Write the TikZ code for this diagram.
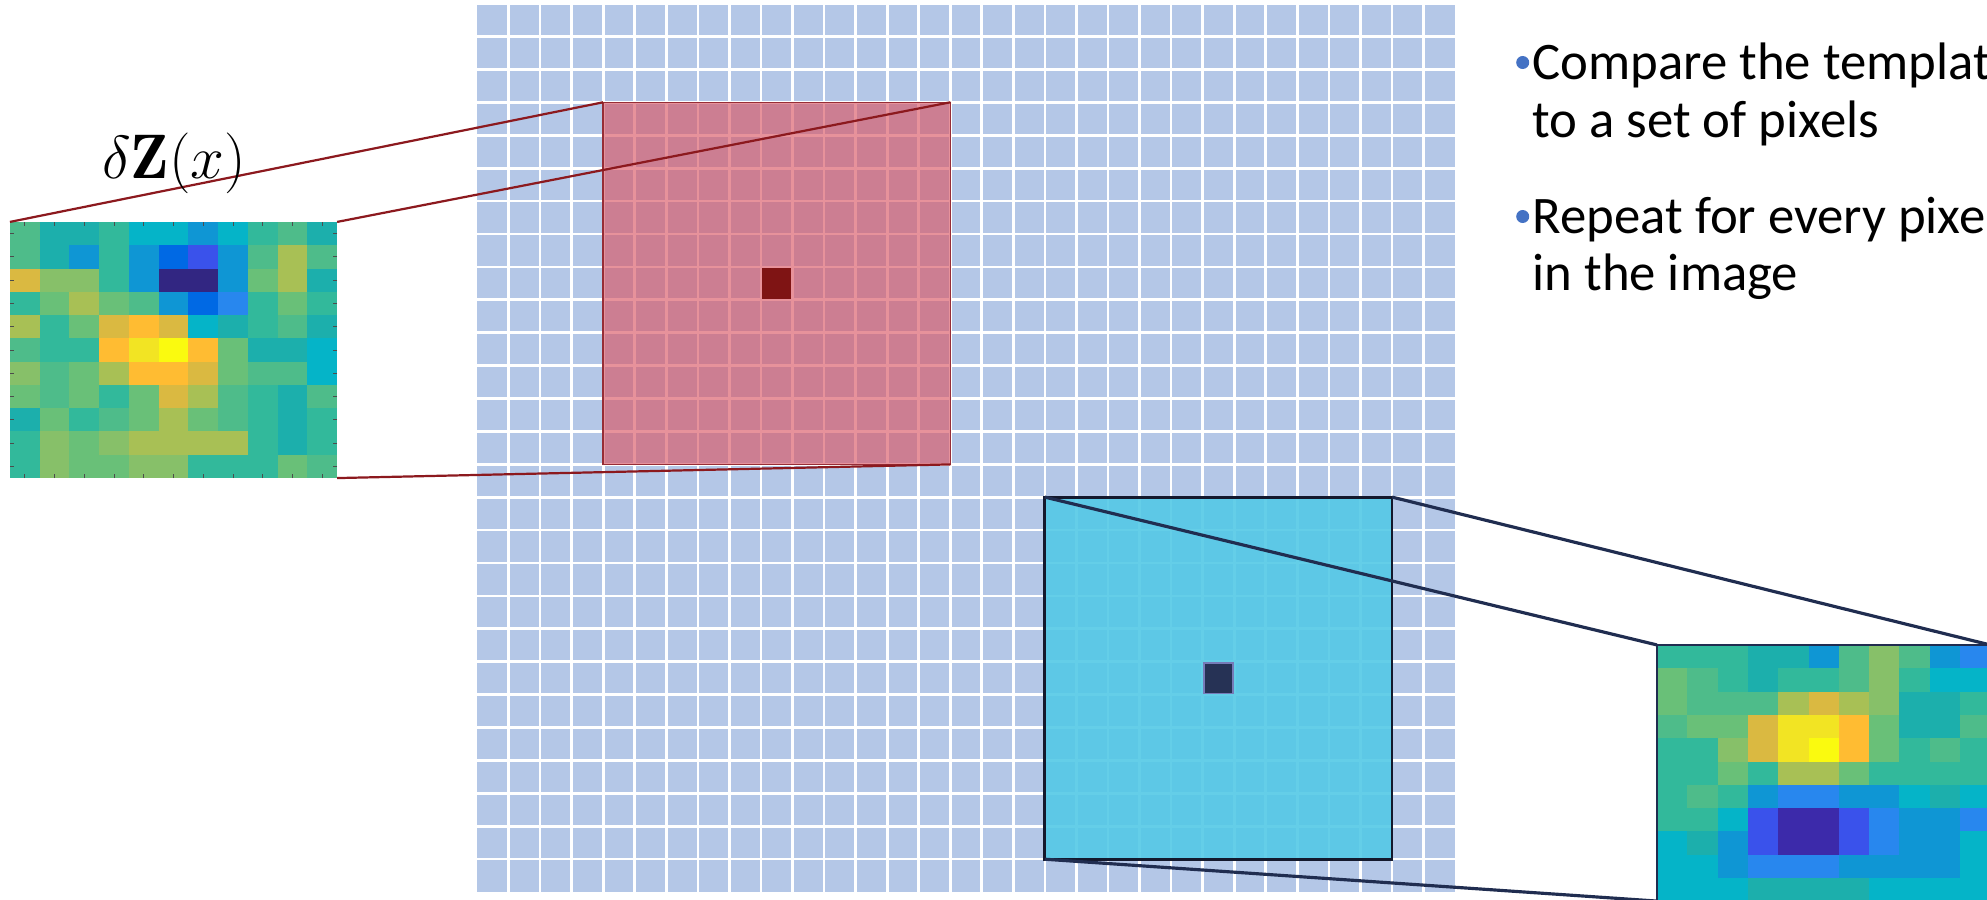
\documentclass[tikz,border=0pt]{standalone}
\usepackage{fontspec}
\newfontfamily\calibri{Carlito}
\usepackage{tikz}
\usetikzlibrary{calc}
\usepackage{xcolor}

\definecolor{gridblue}{RGB}{180,199,231}
\definecolor{redfill}{RGB}{219,86,99}
\definecolor{rededge}{RGB}{150,45,55}
\definecolor{redline}{RGB}{140,25,30}
\definecolor{redpix}{RGB}{127,20,20}
\definecolor{cyanfill}{RGB}{84,201,230}
\definecolor{navyedge}{RGB}{20,25,45}
\definecolor{navyline}{RGB}{32,45,80}
\definecolor{navypix}{RGB}{38,50,85}
\definecolor{bulletblue}{RGB}{68,114,196}

% parula-like palette
\definecolor{pa0}{RGB}{50,38,130}
\definecolor{pa1}{RGB}{60,42,170}
\definecolor{pa2}{RGB}{58,82,235}
\definecolor{pa3}{RGB}{0,105,228}
\definecolor{pa4}{RGB}{40,135,238}
\definecolor{pa5}{RGB}{15,150,212}
\definecolor{pa6}{RGB}{5,180,200}
\definecolor{pa7}{RGB}{28,175,172}
\definecolor{pa8}{RGB}{50,185,155}
\definecolor{pa9}{RGB}{78,188,138}
\definecolor{pa10}{RGB}{105,192,120}
\definecolor{pa11}{RGB}{135,192,105}
\definecolor{pa12}{RGB}{168,192,85}
\definecolor{pa13}{RGB}{218,185,65}
\definecolor{pa14}{RGB}{255,188,50}
\definecolor{pa15}{RGB}{242,228,35}
\definecolor{pa16}{RGB}{250,250,15}

\begin{document}
\begin{tikzpicture}[x=0.01cm,y=-0.01cm,
		gridline/.style={white,line width=0.77pt},
		window/.style={inner sep=0,outer sep=0,minimum width=3.4705cm,minimum height=3.619cm},
		redwin/.style={window,draw=rededge,line width=0.43pt,fill=redfill,fill opacity=0.64},
		cyanwin/.style={window,draw=navyedge,line width=0.8pt,fill=cyanfill,fill opacity=0.9},
		pixel/.style={inner sep=0,outer sep=0,minimum width=0.29cm,minimum height=0.305cm},
		patch/.style={inner sep=0,outer sep=0,minimum height=2.56cm},
		tickmark/.style={black!70,line width=0.25pt},
		redconn/.style={draw=redline,line width=0.63pt},
		navyconn/.style={draw=navyline,line width=0.9pt},
		bullet/.style={circle,fill=bulletblue,inner sep=0,minimum size=0.13cm},
		bodytext/.style={font=\calibri\fontsize{15}{18}\selectfont,anchor=base west,inner sep=0}]
	
	\path[use as bounding box] (0,0) rectangle (1987,900);
	\clip (0,0) rectangle (1987,900);
	
	% image grid
	\fill[gridblue] (477,5) rectangle (1455,892);
	\foreach \i in {1,...,30}
		\draw[gridline] ({477+\i*31.55},5) -- ({477+\i*31.55},892);
	\foreach \j in {1,...,26}
		\draw[gridline] (477,{3.7+\j*32.9}) -- (1455,{3.7+\j*32.9});
	
	% template windows
	\node[redwin] (redwin) at (776.73,283.35) {};
	\node[pixel,fill=redpix] (redpx) at (776.73,283.35) {};
	\node[cyanwin] (cyanwin) at (1218.43,678.15) {};
	\node[pixel,fill=navypix,draw=navypix!70!blue!60!white,line width=0.5pt] (cyanpx) at (1218.43,678.15) {};
	
	% left patch
	\foreach \vals [count=\row from 0] in {{9,7,7,8,6,6,5,6,8,9,7},{9,7,5,8,5,3,2,5,9,12,9},{13,11,11,8,5,0,0,5,10,12,7},{8,10,12,10,9,5,3,4,8,10,8},{12,8,10,13,14,13,6,7,8,9,7},{9,8,8,14,15,16,14,10,7,7,6},{11,9,10,12,14,14,13,10,9,9,6},{10,9,10,8,10,13,12,9,8,7,9},{7,10,8,9,10,12,10,9,8,7,8},{8,11,10,11,12,12,12,12,8,7,8},{8,11,10,10,11,11,8,8,8,10,9}}
		\foreach \v [count=\col from 0] in \vals
			\fill[pa\v] ({10+\col*29.73},{222+\row*23.27}) rectangle ++(30,23.5);
	\node[patch,minimum width=3.27cm] (patchL) at (173.5,350) {};
	\foreach \i in {0,...,10} {
		\draw[tickmark] ({10+(\i+0.5)*29.73},478) -- ++(0,-4);
		\draw[tickmark] ({10+(\i+0.5)*29.73},222) -- ++(0,4);
		\draw[tickmark] (10,{222+(\i+0.5)*23.27}) -- ++(4,0);
		\draw[tickmark] (337,{222+(\i+0.5)*23.27}) -- ++(-4,0);
	}
	
	% right patch
	\foreach \vals [count=\row from 0] in {{8,8,8,7,7,5,9,11,9,5,4},{10,9,8,7,8,8,9,11,8,6,6},{10,9,9,9,12,13,12,11,7,7,8},{9,10,10,13,15,15,14,10,7,7,9},{8,8,11,13,15,16,14,10,8,9,8},{8,8,10,8,12,12,10,8,8,8,8},{8,9,8,5,4,4,5,5,6,7,6},{8,8,6,2,1,1,2,4,5,5,4},{6,7,5,2,1,1,2,4,5,5,6},{6,6,5,4,4,4,5,5,5,5,6},{6,6,6,7,7,7,7,6,6,6,6}}
		\foreach \v [count=\col from 0] in \vals
			\fill[pa\v] ({1657+\col*30.3},{645+\row*23.3}) rectangle ++(30.6,23.6);
	\node[patch,minimum width=3.33cm,draw=navyline,line width=0.6pt] (patchR) at (1823.5,773) {};
	
	% zoom connectors
	\draw[redconn] (patchL.north west) -- (redwin.north west);
	\draw[redconn] (patchL.north east) -- (redwin.north east);
	\draw[redconn] (patchL.south east) -- (redwin.south east);
	\draw[navyconn] (cyanwin.north west) -- (patchR.north west);
	\draw[navyconn] (cyanwin.north east) -- (patchR.north east);
	\draw[navyconn] (cyanwin.south west) -- (patchR.south west);
	
	% labels
	\node[font=\fontsize{17.9}{20}\selectfont,anchor=base,inner sep=0] (lbl) at (174,178) {$\delta\mathbf{Z}(x)$};
	
	\node[bullet] (b1) at (1522.7,62.5) {};
	\node[bodytext] (t1) at (1532,80) {Compare the template};
	\node[bodytext] (t2) at (1532,137) {to a set of pixels};
	\node[bullet] (b2) at (1522.7,216.5) {};
	\node[bodytext] (t3) at (1532,233) {Repeat for every pixel};
	\node[bodytext] (t4) at (1532,290) {in the image};
	
\end{tikzpicture}
\end{document}
